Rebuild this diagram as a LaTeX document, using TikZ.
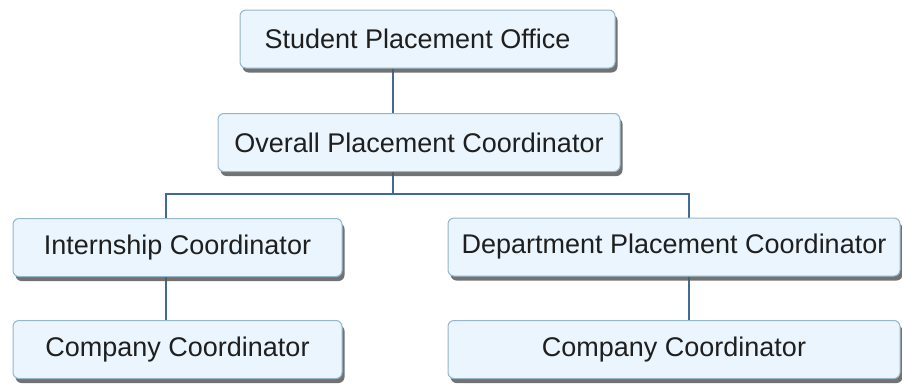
\documentclass[tikz,border=0pt]{standalone}
\usepackage{fontspec}
\setmainfont{Liberation Sans}
\usepackage{tikz}
\usetikzlibrary{shadows}
\usetikzlibrary{backgrounds}
\definecolor{boxfill}{RGB}{234,245,253}
\definecolor{boxedge}{RGB}{150,182,204}
\definecolor{linkblue}{RGB}{62,108,150}
\tikzset{
    box/.style={draw=boxedge, line width=1pt, fill=boxfill, rounded corners=6pt, minimum height=58, inner sep=0pt,
        font=\fontsize{27}{32}\selectfont, text=black!88,
        drop shadow={shadow xshift=2.5pt, shadow yshift=-4.5pt, fill=black!65, opacity=0.85}},
    link/.style={draw=linkblue, line width=1.3pt}
}
\begin{document}
\begin{tikzpicture}[x=1pt,y=-1pt]
\useasboundingbox (0,0) rectangle (902,386);
\foreach \x/\y/\w/\p/\labeltext in {427.5/39/375/spo/{Student Placement Office\hspace*{20pt}}, 419/142.5/402/opc/{Overall Placement Coordinator}, 177.5/247.5/329/ic/{Internship Coordinator}, 177.5/349.5/329/ccl/{Company Coordinator}, 674/247/452/dpc/{Department Placement Coordinator}, 674/349.5/452/ccr/{Company Coordinator}}{
    \node[box, minimum width=\w] (\p) at (\x,\y) {\labeltext};
}
\coordinate (trunk) at (393,194);
\coordinate (lft) at (166,194);
\coordinate (rgt) at (689,194);
\begin{scope}[on background layer]
\draw[link] (spo.south -| trunk)--(opc.north -| trunk);
\draw[link] (opc.south -| trunk)--(trunk);
\draw[link] (ic.north -| lft)--(lft)--(rgt)--(dpc.north -| rgt);
\draw[link] (ic.south -| lft)--(ccl.north -| lft);
\draw[link] (dpc.south -| rgt)--(ccr.north -| rgt);
\end{scope}
\end{tikzpicture}
\end{document}
